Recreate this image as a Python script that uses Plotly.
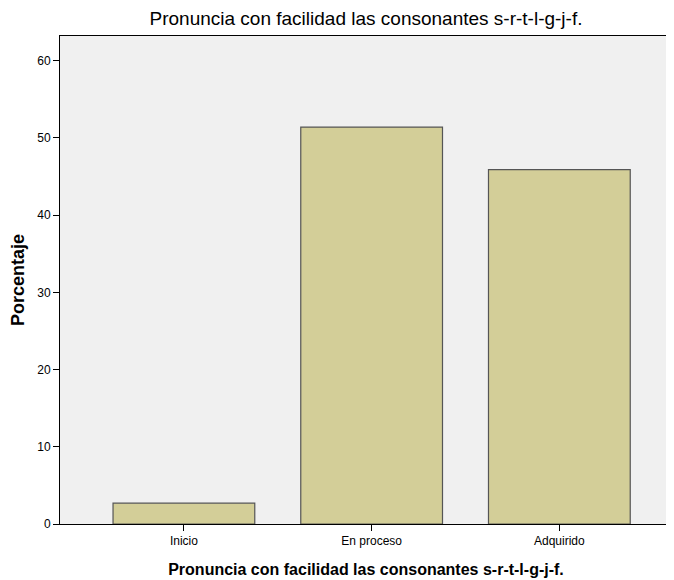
import plotly.graph_objects as go

categories = ["Inicio", "En proceso", "Adquirido"]
percentages = [2.7, 51.4, 45.9]
y_ticks = [0, 10, 20, 30, 40, 50, 60]
title_text = "Pronuncia con facilidad las consonantes s-r-t-l-g-j-f."

fig = go.Figure()
fig.add_trace(go.Bar(
    x=categories,
    y=percentages,
    width=0.755,
    marker=dict(color="#D3CE98", line=dict(color="#555555", width=1.2)),
))

font_family = "Liberation Sans, Arial, sans-serif"
# page body has an 8px default margin; figure sized to fit the window without scrollbars
fig.update_layout(
    width=666, height=572,
    margin=dict(l=52, r=2, t=28, b=56, autoexpand=False),
    paper_bgcolor="white",
    plot_bgcolor="#F0F0F0",
    showlegend=False,
    title=dict(text=title_text, xref="paper", x=0.5, xanchor="center",
               y=0.9825, yanchor="middle", automargin=False,
               font=dict(family=font_family, size=19, color="black")),
    font=dict(family=font_family, color="black"),
)
fig.update_xaxes(
    range=[-0.66, 2.6],
    automargin=False,
    showline=True, linecolor="black", linewidth=1, mirror=True,
    ticks="outside", ticklen=6, tickcolor="black",
    tickfont=dict(size=12),
    title=dict(text="<b>" + title_text + "</b>", font=dict(size=16), standoff=16),
    showgrid=False,
)
fig.update_yaxes(
    range=[0, 63.2],
    automargin=False,
    tickvals=y_ticks,
    showline=True, linecolor="black", linewidth=1, mirror=True,
    ticks="outside", ticklen=6, tickcolor="black",
    tickfont=dict(size=12),
    title=dict(text="<b>Porcentaje</b>", font=dict(size=18), standoff=8),
    showgrid=False, zeroline=False,
)
fig.write_html("out.html")
